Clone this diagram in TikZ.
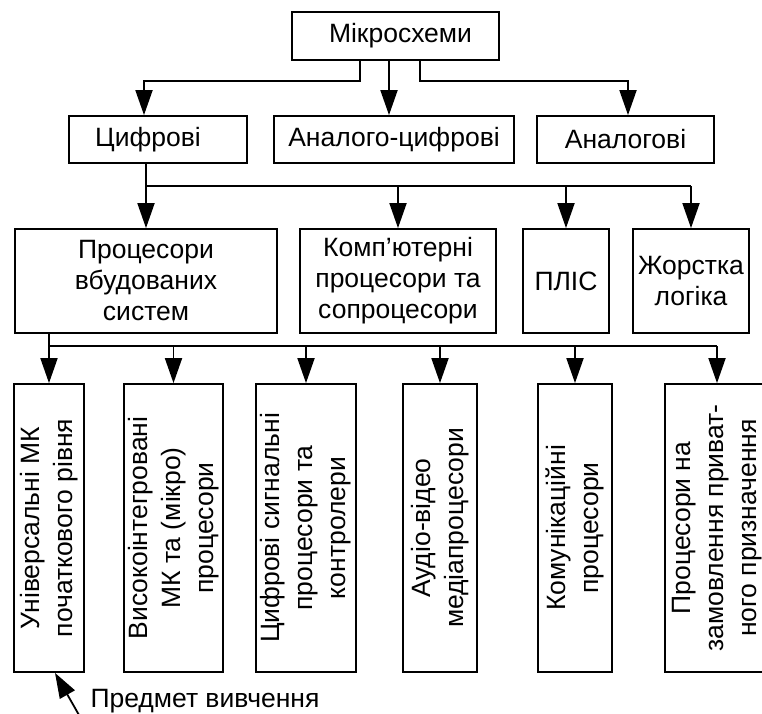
\documentclass[tikz,border=0pt]{standalone}
\usepackage{fontspec}
\setmainfont{Liberation Sans}
\usetikzlibrary{arrows.meta}

\begin{document}
\begin{tikzpicture}[x=1pt,y=-1pt,>={Triangle[length=25pt,width=17pt]},
  box/.style={draw,line width=1.8pt,align=center,inner sep=0pt,
    font=\fontsize{26.5}{31}\selectfont},
  vbox/.style={box,rotate=90,minimum width=288pt,
    font=\fontsize{26.5}{33}\selectfont},
  link/.style={line width=1.8pt},
  arr/.style={link,->}]
  \useasboundingbox (0,0) rectangle (762,713);

  % top level and the three kinds
  \node[box,minimum width=207pt,minimum height=48pt] (mk) at (395.5,36) {\hspace*{10pt}Мікросхеми};
  \node[box,minimum width=178pt,minimum height=47pt] (cyf) at (158,139.5) {Цифрові\hspace*{20pt}};
  \node[box,minimum width=240pt,minimum height=47pt] (acyf) at (394,139.5) {Аналого-цифрові};
  \node[box,minimum width=177pt,minimum height=47pt] (anl) at (625.5,139.5) {Аналогові};

  \draw[arr] ([xshift=-35.5pt]mk.south) -- ++(0,20) -| ([xshift=-14pt]cyf.north);
  \draw[arr] ([xshift=-6.5pt]mk.south) -- ([xshift=-5pt]acyf.north);
  \draw[arr] ([xshift=24.5pt]mk.south) -- ++(0,20) -| ([xshift=2.5pt]anl.north);

  % digital chips
  \node[box,minimum width=262pt,minimum height=104pt] (pvs) at (146,281)
    {Процесори\\вбудованих\\систем};
  \node[box,minimum width=196pt,minimum height=104pt] (kps) at (398,281)
    {Комп’ютерні\\процесори та\\сопроцесори};
  \node[box,minimum width=86pt,minimum height=104pt] (plis) at (566,281) {ПЛІС};
  \node[box,minimum width=116pt,minimum height=104pt] (zl) at (691,281)
    {Жорстка\\логіка};

  \coordinate (bus1) at (146,186);
  \draw[link] (bus1 |- cyf.south) -- (bus1) -- (bus1 -| zl.north);
  \foreach \n in {pvs,kps,plis,zl}
    \draw[arr] (bus1 -| \n.north) -- (\n.north);

  % embedded processors (rotated boxes: east is the top)
  \node[vbox,minimum height=70pt] (u1) at (49,528)
    {Універсальні МК\\початкового рівня};
  \node[vbox,minimum height=99pt] (u2) at (173.5,528)
    {Високоінтегровані\\МК та (мікро)\\процесори};
  \node[vbox,minimum height=100pt] (u3) at (306,528)
    {Цифрові сигнальні\\процесори та\\контролери};
  \node[vbox,minimum height=74pt] (u4) at (440,528)
    {Аудіо-відео\\медіапроцесори};
  \node[vbox,minimum height=74pt] (u5) at (575,528)
    {Комунікаційні\\процесори};
  \node[vbox,minimum height=104pt] (u6) at (717,528)
    {Процесори на\\замовлення приват-\\ного призначення};

  \coordinate (bus2) at (49,346);
  \draw[link] (bus2 |- pvs.south) -- (bus2) -- (bus2 -| u6.east);
  \foreach \i in {1,...,6}
    \draw[arr] (bus2 -| u\i.east) -- (u\i.east);

  \node[anchor=base west,font=\fontsize{26.5}{31}\selectfont] (subj) at (87,707)
    {Предмет вивчення};
  \coordinate (tail) at (79,715);
  \draw[arr] (tail) -- ([xshift=6pt]u1.west);
\end{tikzpicture}
\end{document}
